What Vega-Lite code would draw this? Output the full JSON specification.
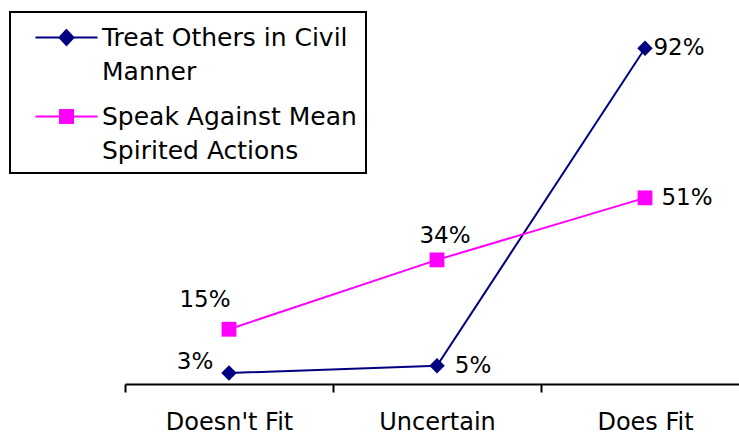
{
  "$schema": "https://vega.github.io/schema/vega-lite/v6.json",
  "width": 614,
  "height": 365,
  "autosize": {"type": "none"},
  "padding": {"left": 125, "top": 19, "right": 0, "bottom": 51},
  "background": "white",
  "config": {
    "view": {"stroke": null},
    "font": "DejaVu Sans"
  },
  "data": {
    "values": [
      {"series": "Treat Others in Civil Manner", "cat": "Doesn't Fit", "value": 0.03},
      {"series": "Treat Others in Civil Manner", "cat": "Uncertain", "value": 0.05},
      {"series": "Treat Others in Civil Manner", "cat": "Does Fit", "value": 0.92},
      {"series": "Speak Against Mean Spirited Actions", "cat": "Doesn't Fit", "value": 0.15},
      {"series": "Speak Against Mean Spirited Actions", "cat": "Uncertain", "value": 0.34},
      {"series": "Speak Against Mean Spirited Actions", "cat": "Does Fit", "value": 0.51}
    ]
  },
  "encoding": {
    "x": {
      "field": "cat", "type": "nominal", "sort": ["Doesn't Fit", "Uncertain", "Does Fit"],
      "scale": {"type": "band", "paddingInner": 0, "paddingOuter": 0, "range": [0, 624]},
      "axis": {
        "title": null, "labelAngle": 0, "domainColor": "black", "domainWidth": 2,
        "tickColor": "black", "tickWidth": 2, "tickSize": 8, "tickBand": "extent",
        "labelFont": "DejaVu Sans", "labelFontSize": 24, "labelColor": "black",
        "labelPadding": 18, "grid": false
      }
    },
    "y": {"field": "value", "type": "quantitative", "scale": {"domain": [0, 1]}, "axis": null}
  },
  "layer": [
    {
      "mark": {"type": "line", "strokeWidth": 2},
      "encoding": {
        "color": {
          "field": "series", "type": "nominal",
          "scale": {"domain": ["Treat Others in Civil Manner", "Speak Against Mean Spirited Actions"], "range": ["#000080", "#ff00ff"]},
          "legend": {
            "title": null, "orient": "none", "legendX": -115, "legendY": -7,
            "strokeColor": "black", "padding": 9, "fillColor": "white",
            "symbolSize": 961, "symbolOffset": 31, "symbolStrokeWidth": 2,
            "symbolType": "M-2,0H2M0,-0.48L0.45,0L0,0.48L-0.45,0Z",
            "labelFont": "DejaVu Sans", "labelFontSize": 25, "labelColor": "black",
            "labelOffset": 19, "labelLimit": 400, "rowPadding": 15,
            "labelExpr": "datum.label == 'Treat Others in Civil Manner' ? ['Treat Others in Civil', 'Manner'] : ['Speak Against Mean', 'Spirited Actions']",
            "encode": {
              "legend": {"update": {"strokeWidth": {"value": 2}}},
              "labels": {"update": {"lineHeight": {"value": 34}}},
              "symbols": {"update": {
                "shape": {"signal": "datum.value == 'Treat Others in Civil Manner' ? 'M-2,0H2M0,-0.48L0.45,0L0,0.48L-0.45,0Z' : 'M-2,0H2M-0.42,-0.42H0.42V0.42H-0.42Z'"},
                "fill": {"signal": "datum.value == 'Treat Others in Civil Manner' ? '#000080' : '#ff00ff'"},
                "stroke": {"signal": "datum.value == 'Treat Others in Civil Manner' ? '#000080' : '#ff00ff'"},
                "opacity": {"value": 1}
              }}
            }
          }
        }
      }
    },
    {
      "transform": [{"filter": "datum.series == 'Treat Others in Civil Manner'"}],
      "mark": {"type": "point", "filled": true, "opacity": 1, "size": 240, "shape": "diamond"},
      "encoding": {"color": {"field": "series", "type": "nominal"}}
    },
    {
      "transform": [{"filter": "datum.series == 'Speak Against Mean Spirited Actions'"}],
      "mark": {"type": "point", "filled": true, "opacity": 1, "size": 220, "shape": "square"},
      "encoding": {"color": {"field": "series", "type": "nominal"}}
    },
    {
      "transform": [{"filter": "datum.series == 'Treat Others in Civil Manner' && datum.cat == \"Doesn't Fit\""}],
      "mark": {"type": "text", "fontSize": 23, "font": "DejaVu Sans", "color": "black", "dx": -34, "dy": -11},
      "encoding": {"text": {"field": "value", "type": "quantitative", "format": ".0%"}}
    },
    {
      "transform": [{"filter": "datum.series == 'Treat Others in Civil Manner' && datum.cat == 'Uncertain'"}],
      "mark": {"type": "text", "fontSize": 23, "font": "DejaVu Sans", "color": "black", "dx": 36, "dy": 0},
      "encoding": {"text": {"field": "value", "type": "quantitative", "format": ".0%"}}
    },
    {
      "transform": [{"filter": "datum.series == 'Treat Others in Civil Manner' && datum.cat == 'Does Fit'"}],
      "mark": {"type": "text", "fontSize": 23, "font": "DejaVu Sans", "color": "black", "dx": 34, "dy": 0},
      "encoding": {"text": {"field": "value", "type": "quantitative", "format": ".0%"}}
    },
    {
      "transform": [{"filter": "datum.series == 'Speak Against Mean Spirited Actions' && datum.cat == \"Doesn't Fit\""}],
      "mark": {"type": "text", "fontSize": 23, "font": "DejaVu Sans", "color": "black", "dx": -24, "dy": -29},
      "encoding": {"text": {"field": "value", "type": "quantitative", "format": ".0%"}}
    },
    {
      "transform": [{"filter": "datum.series == 'Speak Against Mean Spirited Actions' && datum.cat == 'Uncertain'"}],
      "mark": {"type": "text", "fontSize": 23, "font": "DejaVu Sans", "color": "black", "dx": 8, "dy": -24},
      "encoding": {"text": {"field": "value", "type": "quantitative", "format": ".0%"}}
    },
    {
      "transform": [{"filter": "datum.series == 'Speak Against Mean Spirited Actions' && datum.cat == 'Does Fit'"}],
      "mark": {"type": "text", "fontSize": 23, "font": "DejaVu Sans", "color": "black", "dx": 42, "dy": 0},
      "encoding": {"text": {"field": "value", "type": "quantitative", "format": ".0%"}}
    }
  ]
}
